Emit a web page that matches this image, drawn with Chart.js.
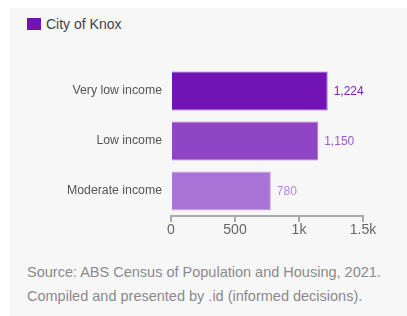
<!DOCTYPE html>
<html>
<head>
<meta charset="utf-8">
<script src="https://cdn.jsdelivr.net/npm/chart.js"></script>
<style>
  html, body { margin: 0; padding: 0; background: #fff; }
  body { width: 407px; height: 316px; position: relative; overflow: hidden; font-family: "Liberation Sans", Arial, sans-serif; }
  #panel { position: absolute; left: 10px; top: 8px; width: 397px; height: 308px; background: #f7f7f7; }
  #legend { position: absolute; left: 17px; top: 8px; font-size: 14px; color: #444; display: flex; align-items: center; }
  #legend span.box { display: inline-block; width: 14px; height: 12px; background: #7213b5; margin-right: 5px; }
  #wrap { position: absolute; left: 0; top: 42px; width: 397px; height: 200px; }
  #source { position: absolute; left: 17px; top: 252px; font-size: 14.5px; line-height: 24px; color: #8a8a8e; }
</style>
</head>
<body>
<div id="panel">
  <div id="legend"><span class="box"></span>City of Knox</div>
  <div id="wrap"><canvas id="incomeChart"></canvas></div>
  <div id="source">Source: ABS Census of Population and Housing, 2021.<br>Compiled and presented by .id (informed decisions).</div>
</div>
<script>
// HOUSEHOLD INCOME BARS
const categories = ["Very low income", "Low income", "Moderate income"];
const households = [1224, 1150, 780];
const barColors = ["#7213b5", "#9045c4", "#a974d6"];
const borderColors = ["#9a55d0", "#b07ad8", "#c9a3e8"];
const labelColors = ["#7b22c0", "#9b59d0", "#b585e0"];
const xTicks = [0, 500, 1000, 1500];
const xTickLabels = ["0", "500", "1k", "1.5k"];

const valueLabels = {
    id: "valueLabels",
    afterDatasetsDraw(chart) {
        const ctx = chart.ctx;
        const meta = chart.getDatasetMeta(0);
        ctx.save();
        ctx.font = "12px 'Liberation Sans', Arial, sans-serif";
        ctx.textBaseline = "middle";
        ctx.textAlign = "left";
        meta.data.forEach((bar, i) => {
            ctx.fillStyle = labelColors[i];
            ctx.fillText(households[i].toLocaleString("en-US"), bar.x + 6, bar.y + 1);
        });
        ctx.restore();
    }
};

const ctx = document.getElementById("incomeChart").getContext("2d");
new Chart(ctx, {
    type: "bar",
    data: {
        labels: categories,
        datasets: [{
            label: "City of Knox",
            data: households,
            backgroundColor: barColors,
            borderColor: borderColors,
            borderWidth: 1,
            categoryPercentage: 0.78,
            barPercentage: 1
        }]
    },
    options: {
        indexAxis: "y",
        responsive: true,
        maintainAspectRatio: false,
        animation: false,
        layout: { padding: { left: 0, right: 44, top: 16, bottom: 4 } },
        plugins: {
            legend: { display: false },
            tooltip: { enabled: false }
        },
        scales: {
            x: {
                min: 0,
                max: 1500,
                afterBuildTicks: (scale) => { scale.ticks = xTicks.map(v => ({ value: v })); },
                afterFit: (scale) => { scale.height = 30; },
                border: { display: true, color: "#aaaaaa", width: 2 },
                grid: { drawOnChartArea: false, drawTicks: true, tickLength: 6, color: "#aaaaaa", lineWidth: 2 },
                ticks: {
                    padding: 0,
                    color: "#666",
                    font: { size: 14, family: "'Liberation Sans', Arial, sans-serif" },
                    callback: (v) => xTickLabels[xTicks.indexOf(v)]
                }
            },
            y: {
                afterFit: (scale) => { scale.width = 161; },
                border: { display: false },
                grid: { display: false },
                ticks: {
                    padding: 1,
                    color: "#555",
                    font: { size: 12.3, family: "'Liberation Sans', Arial, sans-serif" }
                }
            }
        }
    },
    plugins: [valueLabels]
});
</script>
</body>
</html>
